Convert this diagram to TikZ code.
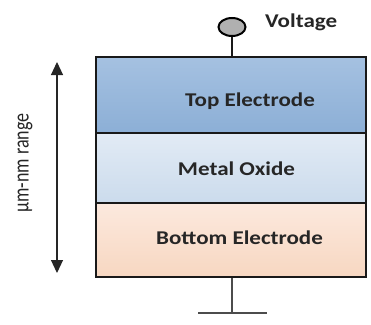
\documentclass[tikz,border=0pt]{standalone}
\usepackage{fontspec}
\setmainfont{Carlito}
\newfontfamily\widefont[FakeStretch=1.18]{Carlito}
\usetikzlibrary{arrows.meta,shapes.geometric}
\definecolor{txt}{HTML}{262626}
\definecolor{topA}{RGB}{165,193,225}
\definecolor{topB}{RGB}{140,175,214}
\definecolor{oxA}{RGB}{226,235,245}
\definecolor{oxB}{RGB}{203,219,236}
\definecolor{botA}{RGB}{252,233,222}
\definecolor{botB}{RGB}{247,215,193}
\definecolor{termfill}{RGB}{176,176,176}
\tikzset{
  layer/.style={draw=black!90, line width=2.4pt, minimum width=270pt, inner sep=0pt},
  lbl/.style={font=\widefont\bfseries\fontsize{19.5}{21}\selectfont, text=txt, inner sep=0pt},
  sidelbl/.style={font=\fontsize{18}{20}\selectfont, text=txt, inner sep=0pt, rotate=90},
}
\begin{document}
\begin{tikzpicture}[x=1pt,y=-1pt]
\useasboundingbox (0,0) rectangle (371,324);
% layers
\node[layer, minimum height=76pt, top color=topA, bottom color=topB] (topel) at (231,95) {};
\node[layer, minimum height=70pt, top color=oxA, bottom color=oxB] (oxide) at (231,168) {};
\node[layer, minimum height=74pt, top color=botA, bottom color=botB] (botel) at (231,240) {};
% labels
\node[lbl] (tl) at (250,101) {Top Electrode};
\node[lbl] (ol) at (236.5,169) {Metal Oxide};
\node[lbl] (bl) at (239.5,238) {Bottom Electrode};
% voltage terminal
\node[ellipse, draw=black, line width=2pt, fill=termfill, minimum width=27pt, minimum height=18pt, inner sep=0pt] (term) at (232,27) {};
\draw[line width=2.6pt, black!90] (term.south) -- (term.south |- topel.north);
\node[lbl, anchor=west] (vl) at (265,22.5) {Voltage};
% ground
\coordinate (gnd) at (232,313);
\coordinate (gl) at (198,313);
\coordinate (gr) at (267,313);
\draw[line width=1.8pt, black!70] (gnd |- botel.south) -- (gnd);
\draw[line width=1.8pt, black!70] (gl) -- (gr);
% range arrow
\coordinate (atop) at (57,62);
\coordinate (abot) at (57,273);
\draw[line width=1.1pt, black!85, {Triangle[width=12pt,length=13pt]}-{Triangle[width=12pt,length=13pt]}] (atop) -- (abot);
\node[sidelbl] (rl) at (25,163) {\scalebox{1}[1.25]{µm-nm range}};
\end{tikzpicture}
\end{document}
